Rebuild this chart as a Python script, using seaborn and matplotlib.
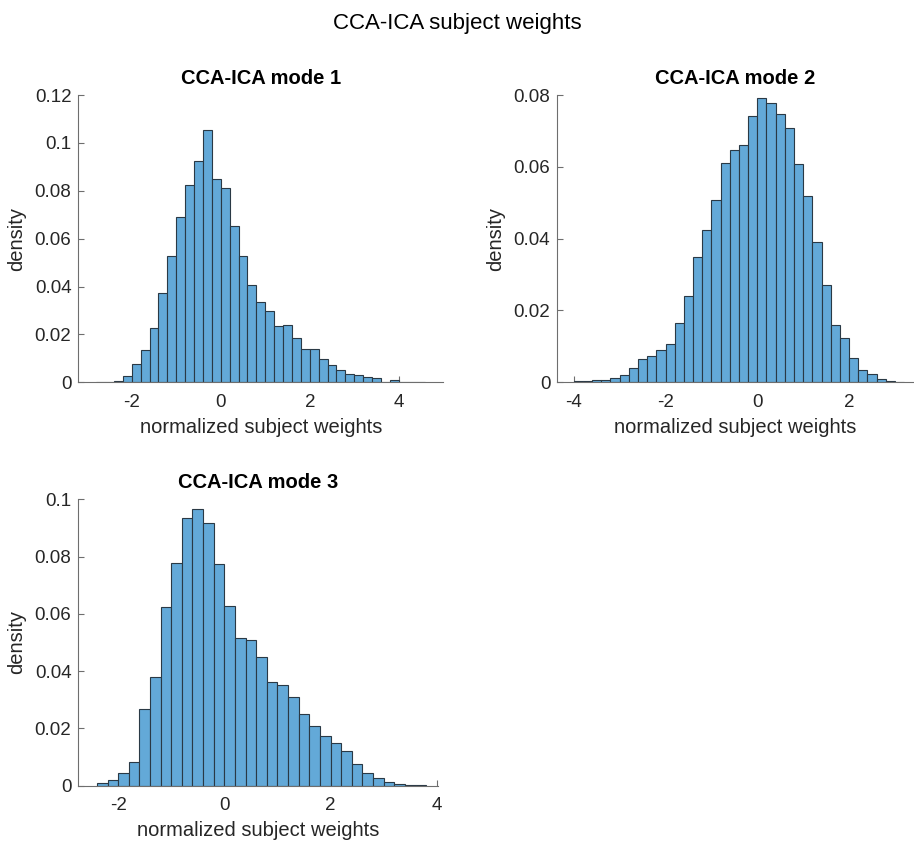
import matplotlib

matplotlib.use("Agg")

import matplotlib.pyplot as plt
import numpy as np
import pandas as pd
import seaborn as sns
from matplotlib.ticker import FormatStrFormatter

# bar heights (bin width 0.2)
mode1_edges = np.round(np.arange(-2.8, 4.6001, 0.2), 1)
mode1_heights = [
    0.0003, 0.0003, 0.0007, 0.0025, 0.0078, 0.0134, 0.0225, 0.0373, 0.0529,
    0.0690, 0.0825, 0.0923, 0.1052, 0.0848, 0.0813, 0.0654, 0.0529, 0.0406,
    0.0335, 0.0298, 0.0234, 0.0238, 0.0185, 0.0141, 0.0141, 0.0097, 0.0071,
    0.0050, 0.0035, 0.0031, 0.0021, 0.0017, 0.0003, 0.0010, 0.0003, 0.0, 0.0003,
]

mode2_edges = np.round(np.arange(-4.0, 3.2001, 0.2), 1)
mode2_heights = [
    0.0004, 0.0003, 0.0006, 0.0007, 0.0013, 0.0019, 0.0041, 0.0064, 0.0072,
    0.0090, 0.0106, 0.0166, 0.0240, 0.0348, 0.0423, 0.0508, 0.0610, 0.0646,
    0.0661, 0.0741, 0.0792, 0.0779, 0.0748, 0.0709, 0.0607, 0.0520, 0.0391,
    0.0270, 0.0159, 0.0123, 0.0068, 0.0035, 0.0024, 0.0008, 0.0005, 0.0002,
]

mode3_edges = np.round(np.arange(-2.4, 3.8001, 0.2), 1)
mode3_heights = [
    0.0009, 0.0019, 0.0043, 0.0083, 0.0268, 0.0380, 0.0625, 0.0776, 0.0934,
    0.0966, 0.0918, 0.0775, 0.0627, 0.0517, 0.0508, 0.0449, 0.0363, 0.0353,
    0.0310, 0.0249, 0.0207, 0.0173, 0.0148, 0.0121, 0.0076, 0.0043, 0.0028,
    0.0014, 0.0007, 0.0002, 0.0002,
]

titles = ["CCA-ICA mode 1", "CCA-ICA mode 2", "CCA-ICA mode 3"]
xticks = [[-2, 0, 2, 4], [-4, -2, 0, 2], [-2, 0, 2, 4]]
yticks = [
    [0, 0.02, 0.04, 0.06, 0.08, 0.1, 0.12],
    [0, 0.02, 0.04, 0.06, 0.08],
    [0, 0.02, 0.04, 0.06, 0.08, 0.1],
]

sns.set_style("ticks")
plt.rcParams["font.family"] = ["Liberation Sans", "DejaVu Sans"]
plt.rcParams["axes.unicode_minus"] = False
plt.rcParams["xtick.direction"] = "in"
plt.rcParams["ytick.direction"] = "in"

BAR = "#63a9d8"
EDGE = "#2a3945"
AXIS = "#6e6e6e"
TEXT = "#262626"

fig = plt.figure(figsize=(9.14, 8.43), dpi=100)
positions = [
    [0.0857, 0.5465, 0.3993, 0.3408],
    [0.6097, 0.5465, 0.3895, 0.3408],
    [0.0857, 0.0680, 0.3939, 0.3397],
]
xlims = [(-3.2, 5.0), (-4.36, 3.4), (-2.75, 4.03)]
ylims = [(0, 0.12), (0, 0.08), (0, 0.1)]
panels = [
    (mode1_edges, mode1_heights),
    (mode2_edges, mode2_heights),
    (mode3_edges, mode3_heights),
]

for i, (edges, heights) in enumerate(panels):
    ax = fig.add_axes(positions[i])
    df = pd.DataFrame({
        "weight": (edges[:-1] + edges[1:]) / 2,
        "height": heights,
    })
    sns.histplot(
        data=df,
        x="weight",
        weights="height",
        bins=list(edges),
        stat="count",
        color=BAR,
        alpha=1,
        edgecolor=EDGE,
        linewidth=0.8,
        ax=ax,
    )
    ax.set_xlim(*xlims[i])
    ax.set_ylim(*ylims[i])
    ax.set_xticks(xticks[i])
    ax.set_yticks(yticks[i])
    ax.yaxis.set_major_formatter(FormatStrFormatter("%g"))
    ax.tick_params(labelsize=13.5, colors=AXIS, labelcolor=TEXT, length=4, width=0.8)
    ax.tick_params(axis="x", pad=8.5)
    ax.tick_params(axis="y", pad=5)
    for side in ["top", "right"]:
        ax.spines[side].set_visible(False)
    for side in ["left", "bottom"]:
        ax.spines[side].set_color(AXIS)
        ax.spines[side].set_linewidth(0.8)
    ax.set_title(titles[i], fontsize=14.5, fontweight="bold", color="black", pad=8)
    ax.set_xlabel("normalized subject weights", fontsize=14.5, color=TEXT, labelpad=5)
    ax.set_ylabel("density", fontsize=14.5, color=TEXT, labelpad=6)

fig.suptitle("CCA-ICA subject weights", fontsize=16, y=0.985, color="black")
fig.savefig("out.png", dpi=100, facecolor="white")
plt.close(fig)
